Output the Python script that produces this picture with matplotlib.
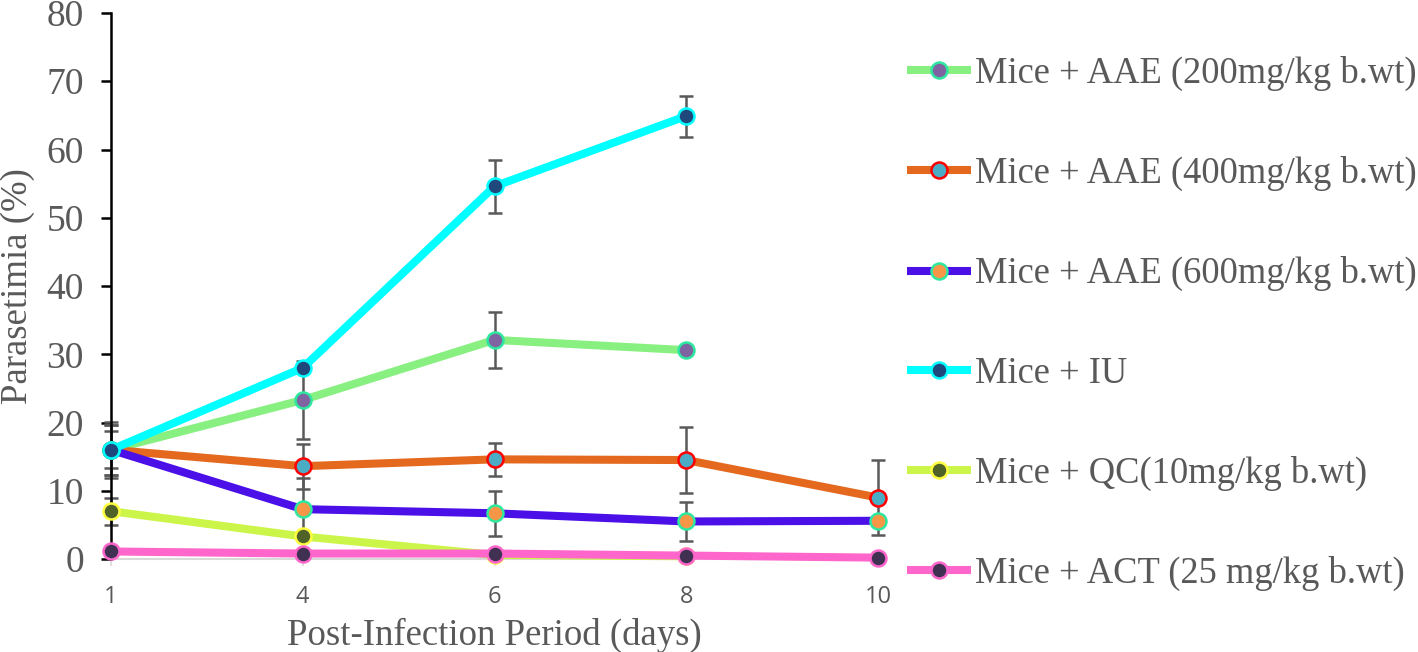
import numpy as np
import matplotlib
matplotlib.use("Agg")
import matplotlib.pyplot as plt

days = ["1", "4", "6", "8", "10"]
series_names = [
    "Mice + AAE (200mg/kg b.wt)",
    "Mice + AAE (400mg/kg b.wt)",
    "Mice + AAE (600mg/kg b.wt)",
    "Mice + IU",
    "Mice + QC(10mg/kg b.wt)",
    "Mice + ACT (25 mg/kg b.wt)",
]
nan = np.nan
aae200 = [16.0, 23.3, 32.1, 30.6, nan]
aae400 = [16.0, 13.6, 14.6, 14.5, 9.0]
aae600 = [16.0, 7.3, 6.7, 5.5, 5.6]
iu = [16.0, 28.0, 54.6, 64.9, nan]
qc = [7.0, 3.3, 0.6, 0.4, nan]
act = [1.1, 0.8, 0.8, 0.5, 0.2]

aae200_err = [3.7, 5.7, 4.1, nan, nan]
aae400_err = [3.7, 3.3, 2.45, 4.9, 5.5]
aae600_err = [2.7, 4.5, 3.3, 2.8, nan]
iu_err = [4.1, nan, 3.85, 3.0, nan]
qc_err = [1.95, nan, nan, nan, nan]
act_err = [nan, nan, nan, nan, nan]

values = [aae200, aae400, aae600, iu, qc, act]
errors = [aae200_err, aae400_err, aae600_err, iu_err, qc_err, act_err]

styles = [
    dict(color="#88F080", mfc="#8064A2", mec="#2EE8A0"),
    dict(color="#E4691E", mfc="#4BACC6", mec="#FF0000"),
    dict(color="#4B0FE8", mfc="#F79646", mec="#2EE8A0"),
    dict(color="#00FFFF", mfc="#1F497D", mec="#00FFFF"),
    dict(color="#CCF54A", mfc="#4F6228", mec="#FFFF40"),
    dict(color="#FF66CC", mfc="#403152", mec="#FF66CC"),
]

serif = "Liberation Serif"
sans = "Open Sans"
gray = "#595959"

fig = plt.figure(figsize=(14.18, 6.52), dpi=100)
ax = fig.add_axes([111 / 1418, 1 - 559 / 652, (878 - 111) / 1418, (559 - 13) / 652])

x = np.arange(len(days))
handles = []
for i, (vals, errs, st, name) in enumerate(zip(values, errors, styles, series_names)):
    v = np.array(vals, dtype=float)
    e = np.array(errs, dtype=float)
    ax.errorbar(x, v, yerr=e, fmt="none", ecolor=gray, elinewidth=1.8,
                capsize=5, capthick=1.8, zorder=2 + i * 0.1, clip_on=False)
    h, = ax.plot(x, v, color=st["color"], lw=5.8, marker="o", markersize=11.5,
                 markerfacecolor=st["mfc"], markeredgecolor=st["mec"],
                 markeredgewidth=1.8, zorder=3 + i * 0.1, clip_on=False,
                 solid_capstyle="butt", label=name)
    handles.append(h)

ax.set_xlim(0, len(days) - 1)
ax.set_ylim(0, 80)
ax.set_yticks(np.arange(0, 81, 10))
ax.set_xticks(x)
ax.set_xticklabels(days, fontfamily=sans, fontsize=17, color=gray)
for lab in ax.get_yticklabels():
    lab.set_fontfamily(serif)
    lab.set_fontsize(27)
    lab.set_color(gray)

ax.spines["top"].set_visible(False)
ax.spines["right"].set_visible(False)
ax.spines["left"].set_color("black")
ax.spines["left"].set_linewidth(1.8)
ax.spines["bottom"].set_color("#D9D9D9")
ax.spines["bottom"].set_linewidth(1.5)
ax.tick_params(axis="y", length=7.5, width=1.8, color="black", pad=12)
ax.tick_params(axis="x", length=5, width=1.2, color="#D9D9D9", pad=14)

ax.set_xlabel("Post-Infection Period (days)", fontfamily=serif, fontsize=26.5,
              color=gray, labelpad=6)
ax.set_ylabel("Parasetimia (%)", fontfamily=serif, fontsize=26.5, color=gray,
              labelpad=8)

leg = fig.legend(handles=handles, loc="upper left",
                 bbox_to_anchor=(907 / 1418, 1 - 56 / 652),
                 prop={"family": serif, "size": 26.3}, frameon=False,
                 handlelength=1.74, handletextpad=0.11, labelspacing=1.78,
                 borderaxespad=0, borderpad=0)
for t in leg.get_texts():
    t.set_color(gray)

fig.savefig("out.png", dpi=100)
